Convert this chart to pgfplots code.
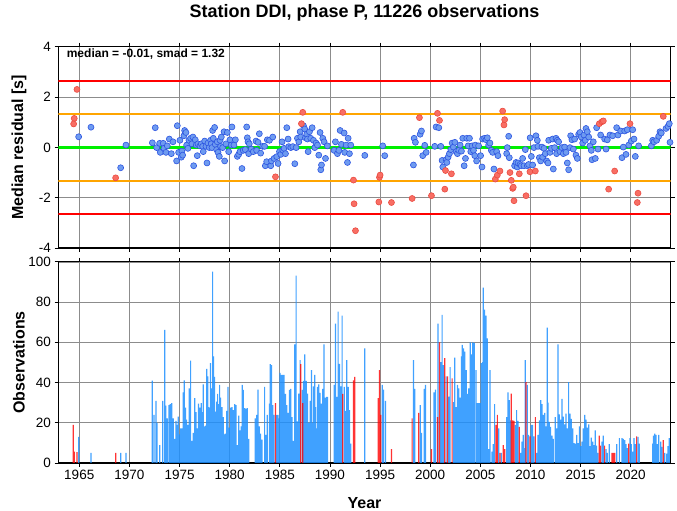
\documentclass[border=0pt]{standalone}
\usepackage{fontspec}
\setmainfont{Liberation Sans}
\usepackage{pgfplots}
\pgfplotsset{compat=1.18}
\definecolor{ptblue}{RGB}{110,155,240}
\definecolor{ptblueedge}{RGB}{45,85,225}
\definecolor{ptred}{RGB}{248,110,100}
\definecolor{ptrededge}{RGB}{235,75,65}
\definecolor{barblue}{RGB}{30,144,255}
\definecolor{barred}{RGB}{255,0,0}
\definecolor{gridgray}{RGB}{140,140,140}
\definecolor{lorange}{RGB}{255,165,0}
\definecolor{lgreen}{RGB}{0,240,0}
\pgfplotsset{
 common/.style={
  scale only axis, width=612pt,
  xmin=1962.93, xmax=2023.97,
  xtick={1965,1970,...,2020},
  grid=major, major grid style={gridgray, line width=0.6pt},
  tick align=outside, major tick length=4pt,
  tick style={black, line width=0.8pt},
  axis line style={black, line width=1.2pt},
  /pgf/number format/assume math mode=true,
  /pgf/number format/1000 sep={},
  tick label style={font=\fontsize{13.5}{15}\selectfont},
  label style={font=\fontsize{16}{18}\selectfont\bfseries},
  ylabel style={at={(axis description cs:-0.0645,0.5)}, anchor=center},
 }
}
\begin{document}
\begin{tikzpicture}
\useasboundingbox (-58.5pt,-262.5pt) rectangle (618.5pt,248.1pt);
\begin{axis}[common, height=201.5pt, ymin=-4, ymax=4, ytick={-4,-2,...,4},
  xticklabels={}, ylabel={Median residual [s]}]
\addplot[barred, line width=2pt] coordinates {(1962,2.63) (2025,2.63)};
\addplot[barred, line width=2pt] coordinates {(1962,-2.65) (2025,-2.65)};
\addplot[lorange, line width=2pt] coordinates {(1962,1.31) (2025,1.31)};
\addplot[lorange, line width=2pt] coordinates {(1962,-1.33) (2025,-1.33)};
\addplot[lgreen, line width=3pt] coordinates {(1962,-0.01) (2025,-0.01)};
\addplot[only marks, mark=*, mark size=3pt, mark options={fill=ptblue, draw=ptblueedge, line width=0.6pt}] coordinates {
(1964.94,0.42) (1966.17,0.80) (1969.13,-0.81) (1969.66,0.09)
(1972.29,0.18) (1972.58,0.78) (1972.72,-0.01) (1973.02,0.16) (1973.08,-0.20) (1973.38,0.16) (1973.45,-0.04) (1973.65,-0.20) (1973.78,0.06) (1973.98,0.33) (1974.18,-0.25) (1974.35,0.22) (1974.71,-0.54) (1974.78,0.86) (1974.91,-0.20) (1975.04,0.28) (1975.18,-0.39) (1975.24,-0.15) (1975.31,-0.31) (1975.44,0.46) (1975.51,0.67) (1975.64,0.59) (1975.71,0.09) (1975.84,-0.04) (1975.94,0.28) (1976.11,0.36) (1976.24,0.14) (1976.34,0.41) (1976.41,-0.73) (1976.57,0.30) (1976.67,0.09) (1976.77,-0.33) (1976.84,0.14) (1977.04,0.06) (1977.17,0.14) (1977.31,0.04) (1977.37,-0.17) (1977.51,0.25) (1977.64,0.04) (1977.74,-0.62) (1977.84,0.17) (1977.97,-0.01) (1978.10,0.28) (1978.17,0.14) (1978.24,-0.01) (1978.30,0.67) (1978.37,0.36) (1978.50,0.79) (1978.57,0.12) (1978.70,-0.09) (1978.77,0.22) (1978.84,-0.20) (1978.97,-0.36) (1979.04,0.28) (1979.10,0.04) (1979.17,0.41) (1979.30,-0.01) (1979.44,0.62) (1979.50,-0.54) (1979.63,0.14) (1979.77,0.59) (1979.90,-0.17) (1980.03,0.30) (1980.17,0.09) (1980.23,0.81) (1980.43,0.09) (1980.57,0.30) (1980.77,-0.36) (1980.90,-0.28) (1981.03,-0.17) (1981.23,-0.84) (1981.36,-0.12) (1981.56,-0.09) (1981.70,0.81) (1981.76,0.38) (1981.83,0.22) (1981.90,-0.25) (1981.96,0.14) (1982.16,-0.07) (1982.36,-0.17) (1982.63,0.25) (1982.69,-0.12) (1982.83,0.20) (1982.96,0.54) (1983.09,-0.23) (1983.29,0.04) (1983.49,0.04) (1983.56,-0.73) (1983.69,-0.57) (1983.76,0.30)
(1983.97,0.28) (1984.10,-0.73) (1984.17,-0.54) (1984.30,0.41) (1984.43,-0.44) (1984.70,-0.37) (1984.83,-0.64) (1984.97,-0.17) (1985.10,-0.28) (1985.23,0.22) (1985.30,-0.11) (1985.43,-0.04) (1985.57,-0.25) (1985.70,0.78) (1985.83,0.33) (1985.90,0.03) (1986.10,-0.01) (1986.30,0.03) (1986.50,-0.65) (1986.63,-0.01) (1986.76,0.36) (1986.90,0.22) (1987.03,0.62) (1987.09,0.41) (1987.36,0.86) (1987.49,0.73) (1987.56,0.38) (1987.69,0.52) (1987.76,0.33) (1987.83,-0.17) (1987.96,0.62) (1988.09,0.36) (1988.23,0.78) (1988.36,0.28) (1988.49,-0.01) (1988.62,0.17) (1988.76,0.09) (1988.89,-0.31) (1989.02,0.59) (1989.09,-0.89) (1989.16,-0.70) (1989.29,0.36) (1989.42,0.22) (1989.56,-0.44) (1989.75,0.06) (1990.42,-0.12) (1990.55,0.22) (1990.75,-0.25) (1990.89,-0.12) (1991.02,0.67) (1991.15,0.12) (1991.42,0.57) (1991.48,-0.20) (1991.62,0.09) (1991.75,-0.60) (1991.82,0.36) (1991.95,-0.25) (1992.08,0.09) (1993.48,-0.32) (1995.27,0.06) (1995.47,-0.33) (1998.33,-0.70) (1998.40,0.36) (1998.53,0.20) (1999.00,0.52) (1999.13,0.65) (1999.26,-0.33) (1999.46,0.08) (1999.60,-0.20) (2000.46,0.04) (2000.59,0.81) (2000.86,0.78) (2001.06,0.04) (2001.19,-0.52) (2001.26,-0.78) (2001.59,-0.49) (2001.66,-0.60) (2001.79,-0.39) (2001.92,-0.25) (2002.06,-0.09) (2002.19,0.17) (2002.32,0.01) (2002.46,0.20) (2002.59,-0.17) (2002.72,-0.25) (2002.86,-0.12) (2002.99,0.09) (2003.12,-0.15) (2003.25,0.36) (2003.39,-0.73) (2003.52,-0.44) (2003.65,0.36) (2003.79,0.06) (2003.92,0.36) (2004.05,-0.17) (2004.19,0.06) (2004.32,-0.12) (2004.45,-0.33)
(2004.50,0.09) (2004.63,-0.54) (2004.83,0.06) (2005.03,-0.33) (2005.17,-0.78) (2005.23,0.33) (2005.43,0.36) (2005.57,0.30) (2005.70,0.38) (2005.83,0.09) (2005.96,0.17) (2006.10,-0.12) (2006.23,-0.20) (2006.36,-0.86) (2006.63,-0.17) (2006.76,-0.33) (2007.63,-0.25) (2007.69,-0.01) (2007.83,0.44) (2007.89,-0.41) (2008.42,-0.73) (2008.56,-0.60) (2008.69,-0.78) (2008.76,-0.62) (2008.96,-0.68) (2009.09,-0.73) (2009.22,-0.44) (2009.36,-0.73) (2009.49,-0.09) (2009.69,-0.73) (2009.82,-0.68) (2009.97,0.38) (2010.09,-0.36) (2010.22,-0.70) (2010.35,-0.01) (2010.55,0.46) (2010.69,0.28) (2010.75,0.04) (2010.89,-0.41) (2011.02,-0.54) (2011.15,0.01) (2011.22,-0.39) (2011.35,-0.04) (2011.48,-0.25) (2011.62,-0.54) (2011.75,-0.62) (2011.82,0.28) (2011.95,-0.20) (2012.08,-0.04) (2012.22,0.33) (2012.28,-0.86) (2012.41,-0.01) (2012.55,0.36) (2012.61,-0.25) (2012.68,0.28) (2012.81,0.22) (2012.95,-0.17) (2013.15,-0.01) (2013.28,-0.25) (2013.41,0.01) (2013.55,-0.20) (2013.68,-0.62) (2013.81,-0.89) (2013.94,-0.01) (2014.01,0.46) (2014.14,0.30) (2014.28,-0.07) (2014.41,0.33) (2014.54,-0.31) (2014.68,-0.44) (2014.81,0.52) (2014.94,0.59) (2015.07,0.41) (2015.21,0.17) (2015.34,0.49) (2015.47,0.28) (2015.54,0.75) (2015.67,0.62) (2015.81,0.41) (2015.94,0.06) (2016.07,-0.12) (2016.14,-0.49) (2016.27,0.22) (2016.47,-0.44) (2016.60,0.78) (2016.74,-0.07) (2017.00,0.49) (2017.40,0.33) (2017.54,-0.07) (2017.67,0.30) (2017.93,0.49) (2018.20,0.46) (2018.60,0.78) (2018.73,0.49) (2019.00,0.65) (2019.13,-0.41) (2019.26,0.01) (2019.40,0.65) (2019.53,-0.28) (2019.66,0.70) (2019.80,0.09) (2020.06,0.25) (2020.20,0.70) (2020.33,0.33) (2020.46,-0.36) (2020.79,0.06) (2022.06,0.06) (2022.19,0.28) (2022.32,0.22) (2022.59,0.28) (2022.79,0.44) (2022.92,0.62) (2023.05,0.57) (2023.52,0.75) (2023.72,0.83) (2023.85,0.94) (2023.92,0.20)
};
\addplot[only marks, mark=*, mark size=3pt, mark options={fill=ptred, draw=ptrededge, line width=0.6pt}] coordinates {
(1964.77,2.30) (1964.50,1.15) (1964.44,0.93) (1968.63,-1.21) (1984.57,-1.17) (1987.16,0.94) (1987.29,1.39) (1991.28,1.39) (1992.35,-1.30) (1992.41,-2.24) (1992.55,-3.31) (1994.88,-2.17) (1994.94,-1.19) (1995.01,-1.10) (1996.14,-2.19) (1998.20,-2.03) (1998.93,1.18) (2000.13,-1.92) (2000.73,1.35) (2000.93,1.07) (2001.46,-1.66) (2001.53,-0.92) (2002.12,-1.05) (2006.50,-1.26) (2006.70,-1.10) (2006.96,-0.94) (2007.23,1.44) (2007.36,0.89) (2007.43,1.10) (2007.96,-1.00) (2008.09,-1.31) (2008.23,-1.63) (2008.29,-1.58) (2008.36,-2.12) (2008.89,-1.05) (2009.56,-1.92) (2009.95,-0.97) (2010.49,-0.94) (2016.87,0.94) (2017.14,1.02) (2017.27,1.05) (2017.80,-1.66) (2018.40,-0.94) (2019.93,0.94) (2020.66,-2.19) (2020.73,-1.82) (2023.25,1.23)
};
\node[anchor=base west, xshift=4.8pt, yshift=-10.7pt, font=\fontsize{12}{14}\selectfont\bfseries] at (rel axis cs:0,1) {median = -0.01, smad = 1.32};
\end{axis}
\node[anchor=base, font=\fontsize{18}{20}\selectfont\bfseries] at (306pt,230.1pt) {Station DDI, phase P, 11226 observations};
\begin{axis}[common, at={(0pt,-214.8pt)}, anchor=south west, height=201pt, ymin=0, ymax=100, ytick={0,20,...,100},
  xlabel={Year}, xlabel style={at={(axis description cs:0.5,-0.199)}, anchor=center},
  ylabel={Observations}]
\addplot[ybar, bar width=0.12, bar shift=0pt, fill=barblue, fill opacity=0.85, draw=none] coordinates {
(1964.94,12.9) (1966.17,5.0) (1969.13,5.0) (1969.66,5.0)
(1972.29,40.9) (1972.45,23.9) (1972.65,30.8) (1972.75,19.9) (1973.02,8.9) (1973.32,30.8) (1973.52,66.2) (1973.62,28.5) (1973.78,22.2) (1973.95,28.8) (1974.08,29.2) (1974.22,29.8) (1974.38,22.2) (1974.51,11.9) (1974.65,20.9) (1974.75,18.9) (1974.88,23.0) (1975.01,14.2) (1975.11,17.2) (1975.24,17.2) (1975.38,35.1) (1975.48,41.1) (1975.61,27.5) (1975.71,21.5) (1975.84,18.9) (1975.98,37.1) (1976.11,50.9) (1976.24,10.9) (1976.37,14.9) (1976.51,32.2) (1976.64,25.2) (1976.77,17.2) (1976.90,29.5) (1977.04,27.5) (1977.17,29.8) (1977.27,25.2) (1977.37,39.1) (1977.51,18.2) (1977.61,18.6) (1977.71,46.8) (1977.81,43.1) (1977.90,27.8) (1978.00,27.5) (1978.10,49.7) (1978.20,37.1) (1978.30,95.2) (1978.40,53.0) (1978.50,42.8) (1978.60,25.5) (1978.70,30.5) (1978.80,34.3) (1978.90,29.2) (1979.00,38.8) (1979.10,32.5) (1979.23,27.8) (1979.37,22.8) (1979.47,14.2) (1979.57,14.6) (1979.70,25.9) (1979.84,37.8) (1979.97,17.6) (1980.10,27.5) (1980.23,27.8) (1980.37,26.2) (1980.50,29.2) (1980.63,28.8) (1980.77,8.9) (1980.90,23.5) (1981.03,16.2) (1981.16,18.2) (1981.26,38.8) (1981.36,36.3) (1981.50,27.2) (1981.63,26.9) (1981.76,27.2) (1981.90,11.9) (1982.56,22.2) (1982.69,23.9) (1982.83,36.5) (1982.96,18.2) (1983.09,14.6) (1983.23,11.6) (1983.49,37.8) (1983.62,13.9) (1983.76,23.9)
(1983.97,29.5) (1984.04,49.1) (1984.17,48.7) (1984.30,28.8) (1984.43,23.9) (1984.70,23.9) (1984.83,23.9) (1984.97,22.2) (1985.03,44.8) (1985.17,43.8) (1985.30,43.8) (1985.43,43.8) (1985.57,34.3) (1985.70,28.8) (1985.83,24.9) (1985.96,36.3) (1986.10,36.8) (1986.23,22.8) (1986.36,10.9) (1986.50,59.0) (1986.63,93.2) (1986.76,20.6) (1986.90,34.5) (1987.03,51.1) (1987.23,36.3) (1987.36,40.8) (1987.49,54.0) (1987.63,40.8) (1987.76,34.5) (1987.89,19.9) (1988.03,30.8) (1988.16,46.1) (1988.23,19.9) (1988.36,38.1) (1988.49,43.8) (1988.56,27.8) (1988.62,17.2) (1988.76,37.8) (1988.89,39.1) (1989.02,34.8) (1989.16,29.5) (1989.29,36.8) (1989.42,59.0) (1989.56,32.5) (1989.69,32.8) (1989.75,32.8) (1990.42,38.8) (1990.55,69.3) (1990.69,32.8) (1990.82,75.3) (1990.95,49.3) (1991.08,38.1) (1991.22,73.3) (1991.42,37.8) (1991.55,25.9) (1991.68,51.1) (1991.82,37.8) (1991.95,26.2) (1992.08,9.6) (1993.48,57.0) (1995.21,38.8) (1995.34,36.5) (1995.54,30.8) (1998.33,51.1) (1998.47,36.8) (1999.00,28.8) (1999.13,14.9) (1999.40,36.8) (1999.53,38.8) (2000.39,35.1) (2000.53,36.5) (2000.79,69.3) (2001.06,50.1) (2001.19,73.6) (2001.33,48.7) (2001.59,43.1) (2001.86,33.0) (2001.99,47.7) (2002.32,30.2) (2002.46,52.4) (2002.59,27.8) (2002.72,38.8) (2002.86,37.1) (2002.99,32.5) (2003.12,53.0) (2003.19,58.7) (2003.32,57.0) (2003.45,55.4) (2003.59,46.1) (2003.72,34.3) (2003.85,37.1) (2003.99,60.0) (2004.12,54.0) (2004.25,60.0) (2004.39,59.7)
(2004.57,46.1) (2004.70,29.8) (2004.83,29.8) (2004.97,29.8) (2005.10,49.7) (2005.23,50.1) (2005.30,87.2) (2005.43,76.3) (2005.57,73.3) (2005.70,62.0) (2005.83,6.9) (2005.96,46.1) (2006.16,5.6) (2006.30,9.3) (2006.43,29.2) (2006.83,17.2) (2007.09,5.0) (2007.63,22.8) (2007.76,35.1) (2007.89,31.2) (2008.03,21.2) (2008.49,18.9) (2008.62,26.2) (2008.76,20.9) (2009.02,5.0) (2009.16,10.6) (2009.29,13.9) (2009.36,7.3) (2009.49,51.1) (2009.69,38.8) (2009.82,13.9) (2010.09,18.9) (2010.22,18.9) (2010.35,13.2) (2010.62,5.0) (2010.75,13.9) (2010.89,21.2) (2011.02,31.2) (2011.15,29.2) (2011.28,23.9) (2011.42,24.9) (2011.55,18.2) (2011.68,67.3) (2011.75,30.0) (2011.88,20.4) (2012.01,17.9) (2012.15,13.6) (2012.28,11.9) (2012.48,22.8) (2012.61,17.2) (2012.75,59.0) (2012.88,24.2) (2013.01,21.5) (2013.15,31.8) (2013.28,23.0) (2013.41,19.2) (2013.55,24.5) (2013.68,17.2) (2013.81,40.2) (2013.94,24.5) (2014.08,21.9) (2014.21,17.2) (2014.34,9.9) (2014.48,9.6) (2014.61,13.9) (2014.74,9.9) (2014.88,18.2) (2015.01,8.3) (2015.14,10.6) (2015.27,17.2) (2015.41,23.9) (2015.54,21.5) (2015.67,17.6) (2015.81,19.2) (2015.94,8.3) (2016.07,12.6) (2016.21,10.6) (2016.34,8.9) (2016.47,16.2) (2016.60,8.6) (2016.74,5.0) (2017.14,10.6) (2017.27,13.6) (2017.54,6.9) (2017.67,5.0) (2017.87,9.3) (2018.60,9.3) (2018.87,12.3) (2019.13,12.3) (2019.26,11.9) (2019.40,11.3) (2019.53,9.3) (2019.66,7.3) (2019.93,12.3) (2020.06,9.3) (2020.20,5.6) (2020.33,12.3) (2020.46,9.3) (2020.73,12.9) (2020.86,9.6) (2022.19,9.6) (2022.26,13.6) (2022.39,14.6) (2022.52,13.9) (2022.66,9.3) (2022.79,13.9) (2022.99,10.6) (2023.12,8.0) (2023.39,5.0) (2023.59,4.6) (2023.72,8.3) (2023.85,12.3)
};
\addplot[ybar, bar width=0.12, bar shift=0pt, fill=barred, fill opacity=0.8, draw=none] coordinates {
(1964.40,18.9) (1964.50,5.6) (1964.77,5.3) (1968.63,5.0) (1984.57,29.8) (1987.09,49.1) (1987.29,29.8) (1991.28,34.3) (1992.35,41.1) (1992.48,42.8) (1994.81,32.2) (1994.94,46.1) (1995.07,23.9) (1996.14,6.9) (1998.20,22.2) (1998.87,24.9) (2000.13,6.9) (2000.73,22.8) (2000.93,60.0) (2001.46,52.1) (2001.72,43.1) (2002.19,42.1) (2006.56,18.9) (2006.70,23.9) (2006.96,5.0) (2007.29,8.9) (2007.43,6.9) (2008.09,34.5) (2008.23,21.2) (2008.36,20.9) (2008.89,17.9) (2009.56,40.2) (2009.95,13.2) (2010.49,22.8) (2016.87,13.6) (2017.00,8.6) (2017.40,8.6) (2018.13,5.0) (2018.27,5.0) (2018.40,5.0) (2019.80,9.6) (2020.59,13.2) (2023.25,11.3)
};
\end{axis}
\end{tikzpicture}
\end{document}
